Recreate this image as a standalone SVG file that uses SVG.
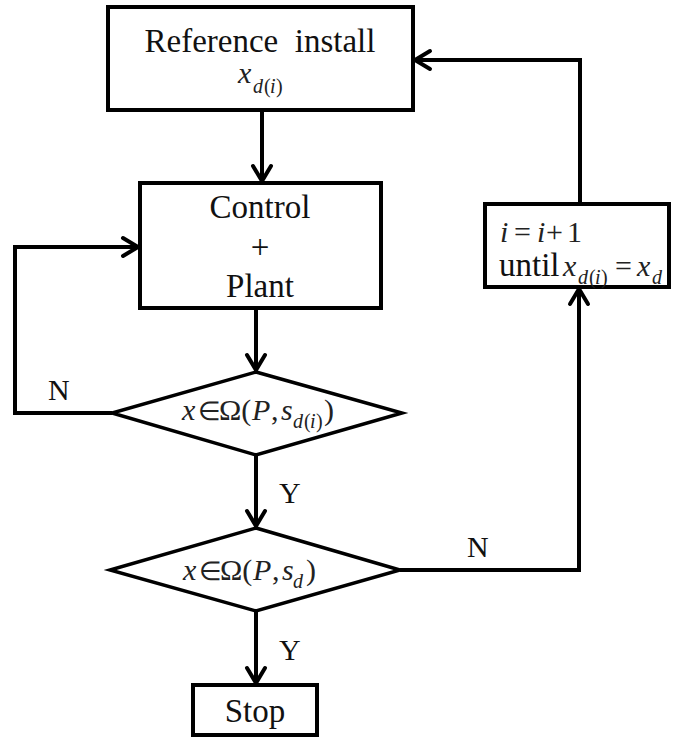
<svg xmlns="http://www.w3.org/2000/svg" width="673" height="737" viewBox="0 0 673 737">
<style>
text{font-family:'Liberation Serif','Times New Roman',serif}
.box{fill:#fff;stroke:#000;stroke-width:4}
.dia{fill:#fff;stroke:#000;stroke-width:3.5;stroke-linejoin:miter}
.con{fill:none;stroke:#000;stroke-width:4}
.ntext{fill:#111;font-size:33px}
.mtext{fill:#222;font-size:30px}
.ital{font-style:italic}
.sub{font-size:20px}
.elem{font-size:26px}
.lbl{fill:#111;font-size:30px}
</style>
<defs>
<marker id="ah" markerUnits="userSpaceOnUse" viewBox="-18 -12 22 24" markerWidth="22" markerHeight="24" refX="0" refY="0" orient="auto">
<path d="M -15 -9 L 0 0 L -15 9" fill="none" stroke="#000" stroke-width="4" stroke-linecap="round" stroke-linejoin="miter"/>
</marker>
</defs>
<rect width="673" height="737" fill="#fff"/>
<g id="connectors">
<path class="con" d="M262 110 V181" marker-end="url(#ah)"/>
<path class="con" d="M256 308 V370" marker-end="url(#ah)"/>
<path class="con" d="M256 455 V526" marker-end="url(#ah)"/>
<path class="con" d="M256 611 V683" marker-end="url(#ah)"/>
<path class="con" d="M112 413 H15 V247 H138" marker-end="url(#ah)"/>
<path class="con" d="M400 570 H579 V289" marker-end="url(#ah)"/>
<path class="con" d="M580 204 V60 H415" marker-end="url(#ah)"/>
<text class="lbl" x="48" y="400">N</text>
<text class="lbl" x="467" y="557">N</text>
<text class="lbl" x="279" y="503">Y</text>
<text class="lbl" x="279" y="660">Y</text>
</g>
<g id="reference">
<rect class="box" x="108" y="7" width="305" height="103"/>
<text class="ntext" x="260" y="52" text-anchor="middle" xml:space="preserve">Reference  install</text>
<text class="mtext"><tspan class="ital" x="238" y="83">x</tspan><tspan class="sub ital" x="253" y="93">d</tspan><tspan class="sub" x="264" y="93">(</tspan><tspan class="sub ital" x="270" y="93">i</tspan><tspan class="sub" x="276" y="93">)</tspan></text>
</g>
<g id="plant">
<rect class="box" x="140" y="183" width="241" height="125"/>
<text class="ntext" x="260" y="218" text-anchor="middle">Control</text>
<text class="ntext" x="260" y="258" text-anchor="middle">+</text>
<text class="ntext" x="260" y="297" text-anchor="middle">Plant</text>
</g>
<g id="check1">
<polygon class="dia" points="256,372 402,413 256,455 112,413"/>
<text class="mtext"><tspan class="ital" x="182" y="420">x</tspan><tspan class="elem" x="198" y="420">∈</tspan><tspan x="219" y="420">Ω(</tspan><tspan class="ital" x="252" y="420">P</tspan><tspan x="271" y="420">,</tspan><tspan class="ital" x="281" y="420">s</tspan><tspan class="sub ital" x="293" y="428">d</tspan><tspan class="sub" x="304" y="428">(</tspan><tspan class="sub ital" x="310" y="428">i</tspan><tspan class="sub" x="316" y="428">)</tspan><tspan x="324" y="420">)</tspan></text>
</g>
<g id="check2">
<polygon class="dia" points="256,528 400,570 256,611 110,570"/>
<text class="mtext"><tspan class="ital" x="183" y="580">x</tspan><tspan class="elem" x="199" y="580">∈</tspan><tspan x="220" y="580">Ω(</tspan><tspan class="ital" x="253" y="580">P</tspan><tspan x="272" y="580">,</tspan><tspan class="ital" x="282" y="580">s</tspan><tspan class="sub ital" x="293" y="588">d</tspan><tspan x="306" y="580">)</tspan></text>
</g>
<g id="increment">
<rect class="box" x="485" y="204" width="184" height="83"/>
<text class="mtext"><tspan class="ital" x="500" y="242">i</tspan><tspan x="514" y="242">=</tspan><tspan class="ital" x="537" y="242">i</tspan><tspan x="546" y="242">+</tspan><tspan x="567" y="242">1</tspan></text>
<text class="ntext" x="499" y="276">until</text>
<text class="mtext"><tspan class="ital" x="563" y="276">x</tspan><tspan class="sub ital" x="578" y="284">d</tspan><tspan class="sub" x="589" y="284">(</tspan><tspan class="sub ital" x="595" y="284">i</tspan><tspan class="sub" x="601" y="284">)</tspan><tspan x="615" y="276">=</tspan><tspan class="ital" x="637" y="276">x</tspan><tspan class="sub ital" x="652" y="284">d</tspan></text>
</g>
<g id="stop">
<rect class="box" x="193" y="685" width="124" height="50"/>
<text class="ntext" x="255" y="722" text-anchor="middle">Stop</text>
</g>
</svg>
